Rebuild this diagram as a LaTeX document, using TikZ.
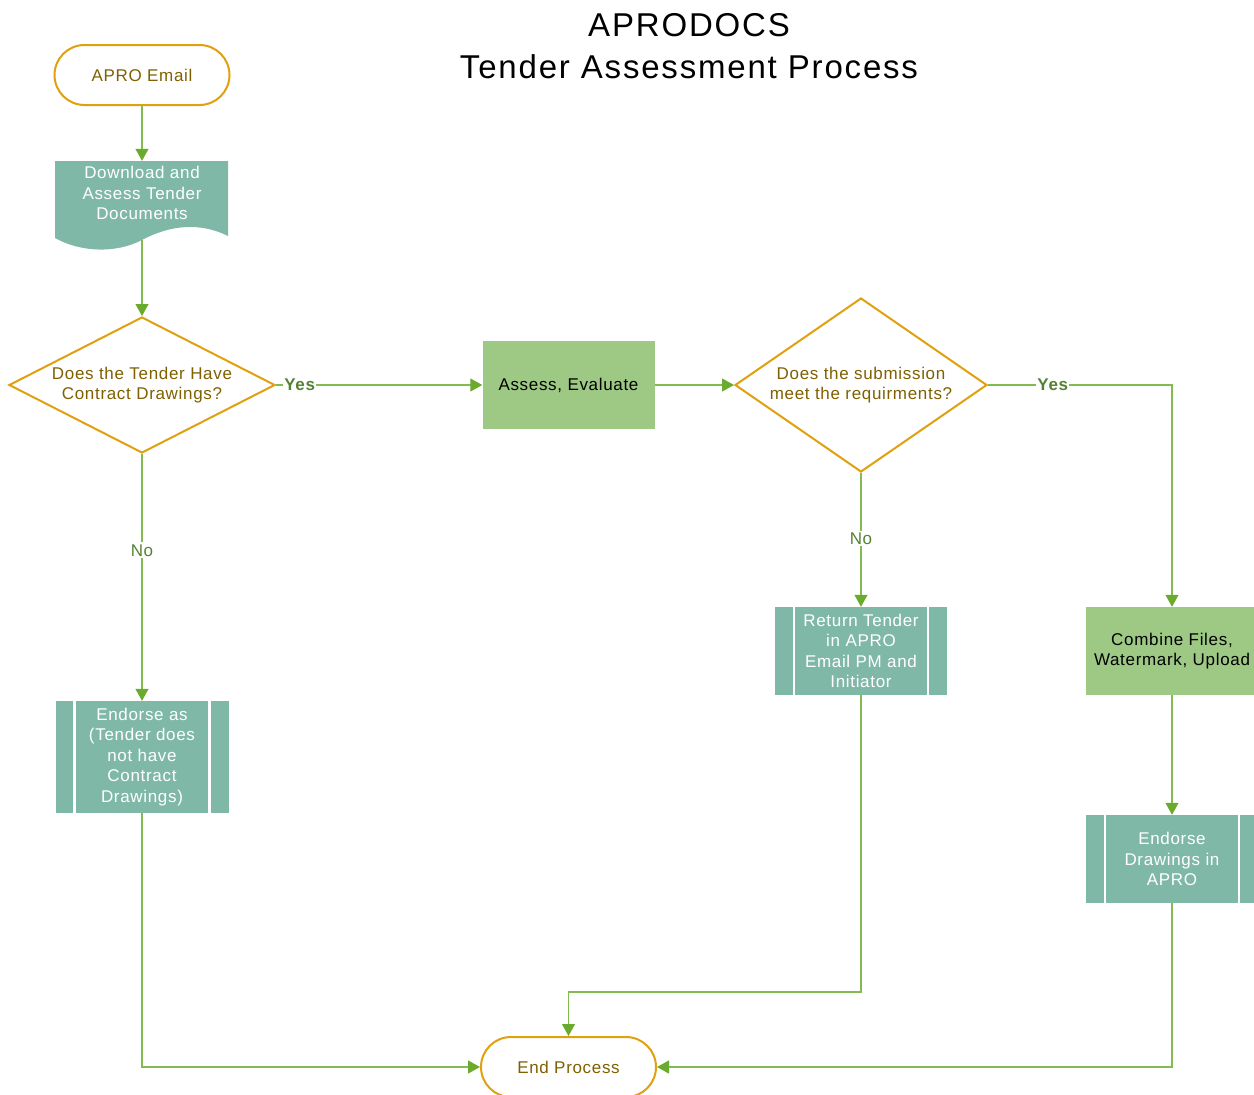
\documentclass[tikz,border=0pt]{standalone}
\usepackage{fontspec}
\setmainfont{Liberation Sans}[LetterSpace=4]
\usetikzlibrary{shapes.geometric,arrows.meta}
\definecolor{aprogold}{RGB}{224,160,16}
\definecolor{aprobrown}{RGB}{127,96,0}
\definecolor{aproteal}{RGB}{128,184,168}
\definecolor{aprogreen}{RGB}{157,201,132}
\definecolor{aproline}{RGB}{130,188,80}
\definecolor{aproarrow}{RGB}{106,171,46}
\definecolor{aproyes}{RGB}{84,130,53}
\tikzset{
  base/.style={font=\fontsize{17}{20.5}\selectfont, align=center, inner sep=0pt},
  term/.style={base, draw=aprogold, line width=2pt, rounded corners=30pt, minimum width=175pt, minimum height=60pt, text=aprobrown, fill=white},
  decide/.style={base, diamond, draw=aprogold, line width=2pt, text=aprobrown, fill=white},
  task/.style={base, rectangle, fill=aprogreen, minimum width=172pt, minimum height=88pt},
  subproc/.style={base, rectangle, fill=aproteal, text=white, minimum width=173pt, minimum height=88pt,
    path picture={\draw[white,line width=2.5pt]
      ([xshift=19pt]path picture bounding box.north west) -- ([xshift=19pt]path picture bounding box.south west)
      ([xshift=-19pt]path picture bounding box.north east) -- ([xshift=-19pt]path picture bounding box.south east);}},
  flow/.style={draw=aproline, line width=1.2pt, -{Triangle[length=12pt,width=13pt,color=aproarrow]}},
  yeslbl/.style={font=\fontsize{17}{20}\selectfont\bfseries, text=aproyes, fill=white, inner sep=1pt},
  nolbl/.style={font=\fontsize{17}{20}\selectfont, text=aproyes, fill=white, inner sep=2pt}
}
\begin{document}
\begin{tikzpicture}[x=1pt,y=-1pt]
\useasboundingbox (0,0) rectangle (1254,1095);
% title
\node[align=center, font=\fontsize{33}{42}\selectfont\addfontfeatures{LetterSpace=5.5}] (title) at (689,46) {APRODOCS\\Tender Assessment Process};
% left column
\node[term] (start) at (142,75) {APRO Email};
\fill[aproteal] (55,161) -- (228,161) -- (228,236) .. controls (200,222) and (170,225) .. (142,240)
  .. controls (115,254) and (80,252) .. (55,238) -- cycle;
\node[base, text=white, minimum width=173pt, minimum height=64pt] (dl) at (142,193) {Download and\\Assess Tender\\Documents};
\coordinate (dlb) at (142,240);
\node[decide, aspect=2, minimum width=266pt, minimum height=136pt] (q1) at (142,385) {Does the Tender Have\\Contract Drawings?};
\node[subproc, minimum height=112pt] (eas) at (142,757) {Endorse as\\(Tender does\\not have\\Contract\\Drawings)};
% middle
\node[task] (assess) at (568.5,385) {Assess, Evaluate};
\node[decide, aspect=1.45, minimum width=252pt, minimum height=174pt] (q2) at (861,385) {Does the submission\\meet the requirments?};
\node[subproc, minimum width=172pt] (ret) at (861,651) {Return Tender\\in APRO\\Email PM and\\Initiator};
\node[term] (endp) at (568.5,1067) {End Process};
\coordinate (jn) at (568.5,992);
% right column
\node[task] (comb) at (1172,651) {Combine Files,\\Watermark, Upload};
\node[subproc, minimum width=172pt] (edraw) at (1172,859) {Endorse\\Drawings in\\APRO};
% connectors
\draw[flow] (start) -- (dl.north);
\draw[flow] (dlb) -- (q1.north);
\draw[flow] (q1.east) -- (assess.west) node[yeslbl, pos=0.115] {Yes};
\draw[flow] (q1.south) -- (eas.north) node[nolbl, pos=0.39] {No};
\draw[flow] (assess.east) -- (q2.west);
\draw[flow] (q2.east) -| (comb.north) node[yeslbl, pos=0.176] {Yes};
\draw[flow] (q2.south) -- (ret.north) node[nolbl, pos=0.49] {No};
\draw[flow] (comb.south) -- (edraw.north);
\draw[flow] (ret.south) |- (jn) -- (endp.north);
\draw[flow] (eas.south) |- (endp.west);
\draw[flow] (edraw.south) |- (endp.east);
\end{tikzpicture}
\end{document}
